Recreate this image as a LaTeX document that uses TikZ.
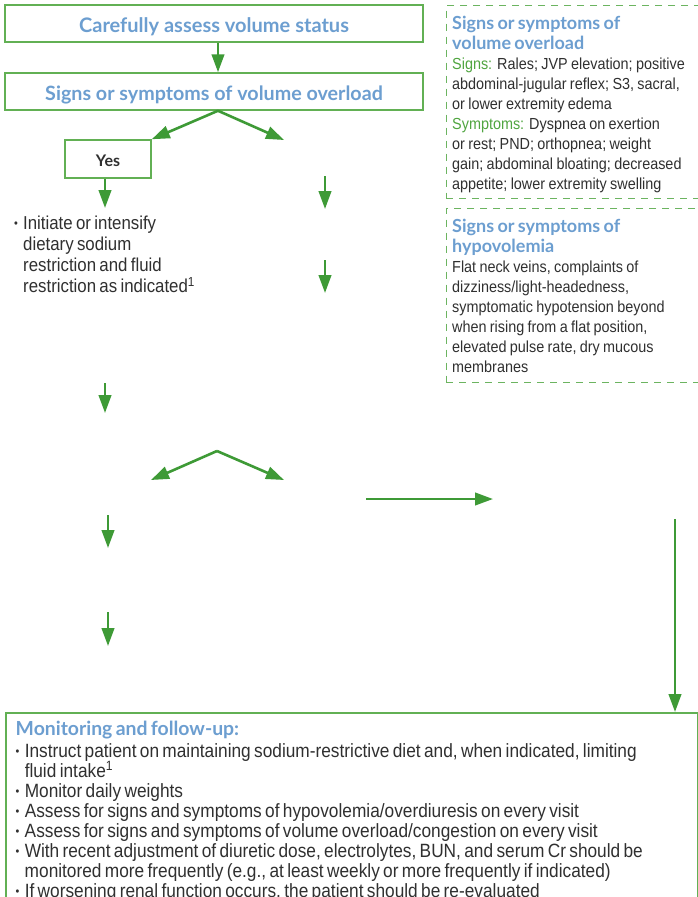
\documentclass[tikz,border=0pt]{standalone}
\usepackage{fontspec}
\setmainfont{Liberation Sans}[FakeStretch=0.9]
\newfontfamily\headfont{Lato}
\usetikzlibrary{arrows.meta}
\definecolor{arrowgreen}{RGB}{62,154,54}
\definecolor{boxgreen}{RGB}{98,176,84}
\definecolor{dashgreen}{RGB}{108,180,96}
\definecolor{headblue}{RGB}{108,158,208}
\definecolor{lblgreen}{RGB}{80,165,64}
\definecolor{bodytext}{RGB}{48,48,48}
\newcommand\bu{\makebox[9pt][l]{\raisebox{2pt}{\fontsize{12}{12}\selectfont\textbullet}}}
\newcommand\ind{\hspace*{9pt}}
\newcommand\hd[1]{{\headfont\bfseries\color{headblue}#1}}
\tikzset{
  arr/.style={draw=arrowgreen, line width=2.6pt, -{Triangle[length=18pt,width=12.5pt]}},
  solidbox/.style={draw=boxgreen, line width=1.5pt, inner sep=0pt},
  dashbox/.style={draw=dashgreen, line width=1.4pt, dash pattern=on 7pt off 6pt},
  body/.style={inner sep=0pt, text=bodytext, align=left}
}
\begin{document}
\begin{tikzpicture}[x=1pt,y=-1pt]
\clip (0,0) rectangle (698,897);
\fill[white] (0,0) rectangle (698,897);

% top boxes
\node[solidbox, minimum width=418, minimum height=37, text height=18pt, text depth=0pt] (assess) at (214,23.5)
  {\hd{\fontsize{20}{24}\selectfont Carefully assess volume status}};
\node[solidbox, minimum width=418, minimum height=37, text height=17.5pt, text depth=0pt] (overload) at (214,91.5)
  {\hd{\fontsize{19.7}{24}\selectfont Signs or symptoms of volume overload}};
\draw[arr] ([xshift=4pt]assess.south) -- ([xshift=4pt]overload.north);

% yes box and fork
\node[solidbox, minimum width=86, minimum height=38, text height=14pt, text depth=0pt] (yes) at (108,159)
  {\headfont\bfseries\fontsize{16}{20}\selectfont\color{bodytext}Yes};
\coordinate (fork1) at ([xshift=4pt]overload.south);
\coordinate (noend) at (284,140);
\draw[arr] (fork1) -- (yes.north east);
\draw[arr] (fork1) -- (noend);

\coordinate (yesout) at (105,208);
\draw[arr] (yes.south -| yesout) -- (yesout);

\node[body, anchor=north west, text width=200] (initiate) at (14,215.3)
  {\lineskiplimit=-100pt\fontsize{18.7}{21.3}\selectfont
   \bu Initiate or intensify\\
   \ind dietary sodium\\
   \ind restriction and fluid\\
   \ind restriction as indicated\textsuperscript{1}\par};

% free arrows
\coordinate (r1s) at (325,176); \coordinate (r1e) at (325,209);
\draw[arr] (r1s) -- (r1e);
\coordinate (r2s) at (325,260); \coordinate (r2e) at (325,293);
\draw[arr] (r2s) -- (r2e);
\coordinate (l1s) at (105,383); \coordinate (l1e) at (105,413);
\draw[arr] (l1s) -- (l1e);
\coordinate (fork2) at (217,451);
\coordinate (f2l) at (151,480); \coordinate (f2r) at (284,480);
\draw[arr] (fork2) -- (f2l);
\draw[arr] (fork2) -- (f2r);
\coordinate (hs) at (366,499); \coordinate (he) at (493,499);
\draw[arr] (hs) -- (he);
\coordinate (l2s) at (108,515); \coordinate (l2e) at (108,548);
\draw[arr] (l2s) -- (l2e);
\coordinate (l3s) at (108,612); \coordinate (l3e) at (108,646);
\draw[arr] (l3s) -- (l3e);

% dashed info boxes
\node[dashbox, body, anchor=north west, minimum width=252, minimum height=193,
      text width=240, inner xsep=6pt] (ovbox) at (445.5,5)
  {\lineskiplimit=-100pt\fontsize{16}{20}\selectfont
   \hd{\fontsize{18}{20}\selectfont Signs or symptoms of\\ volume overload}\\
   {\color{lblgreen}Signs:} Rales; JVP elevation; positive\\
   abdominal-jugular reflex; S3, sacral,\\
   or lower extremity edema\\
   {\color{lblgreen}Symptoms:} Dyspnea on exertion\\
   or rest; PND; orthopnea; weight\\
   gain; abdominal bloating; decreased\\
   appetite; lower extremity swelling\par\vspace{-4pt}};

\node[dashbox, body, anchor=north west, minimum width=252, minimum height=174,
      text width=240, inner xsep=6pt] (hypobox) at (445.5,208)
  {\lineskiplimit=-100pt\fontsize{16}{20}\selectfont
   \hd{\fontsize{18}{21}\selectfont Signs or symptoms of\\ hypovolemia}\\
   Flat neck veins, complaints of\\
   dizziness/light-headedness,\\
   symptomatic hypotension beyond\\
   when rising from a flat position,\\
   elevated pulse rate, dry mucous\\
   membranes\par};

% monitoring box
\node[solidbox, body, anchor=north west, inner xsep=10pt, inner ysep=8.5pt,
      text width=672] (monitor) at (5,712)
  {\lineskiplimit=-100pt\fontsize{19.2}{20}\selectfont
   \hd{\fontsize{19.4}{20}\selectfont Monitoring and follow-up:}\\[2pt]
   \bu Instruct patient on maintaining sodium-restrictive diet and, when indicated, limiting\\
   \ind fluid intake\textsuperscript{1}\\
   \bu Monitor daily weights\\
   \bu Assess for signs and symptoms of hypovolemia/overdiuresis on every visit\\
   \bu Assess for signs and symptoms of volume overload/congestion on every visit\\
   \bu With recent adjustment of diuretic dose, electrolytes, BUN, and serum Cr should be\\
   \ind monitored more frequently (e.g., at least weekly or more frequently if indicated)\\
   \bu If worsening renal function occurs, the patient should be re-evaluated\par};

\coordinate (vtop) at (675,519);
\draw[arr] (vtop) -- (vtop |- monitor.north);
\end{tikzpicture}
\end{document}
